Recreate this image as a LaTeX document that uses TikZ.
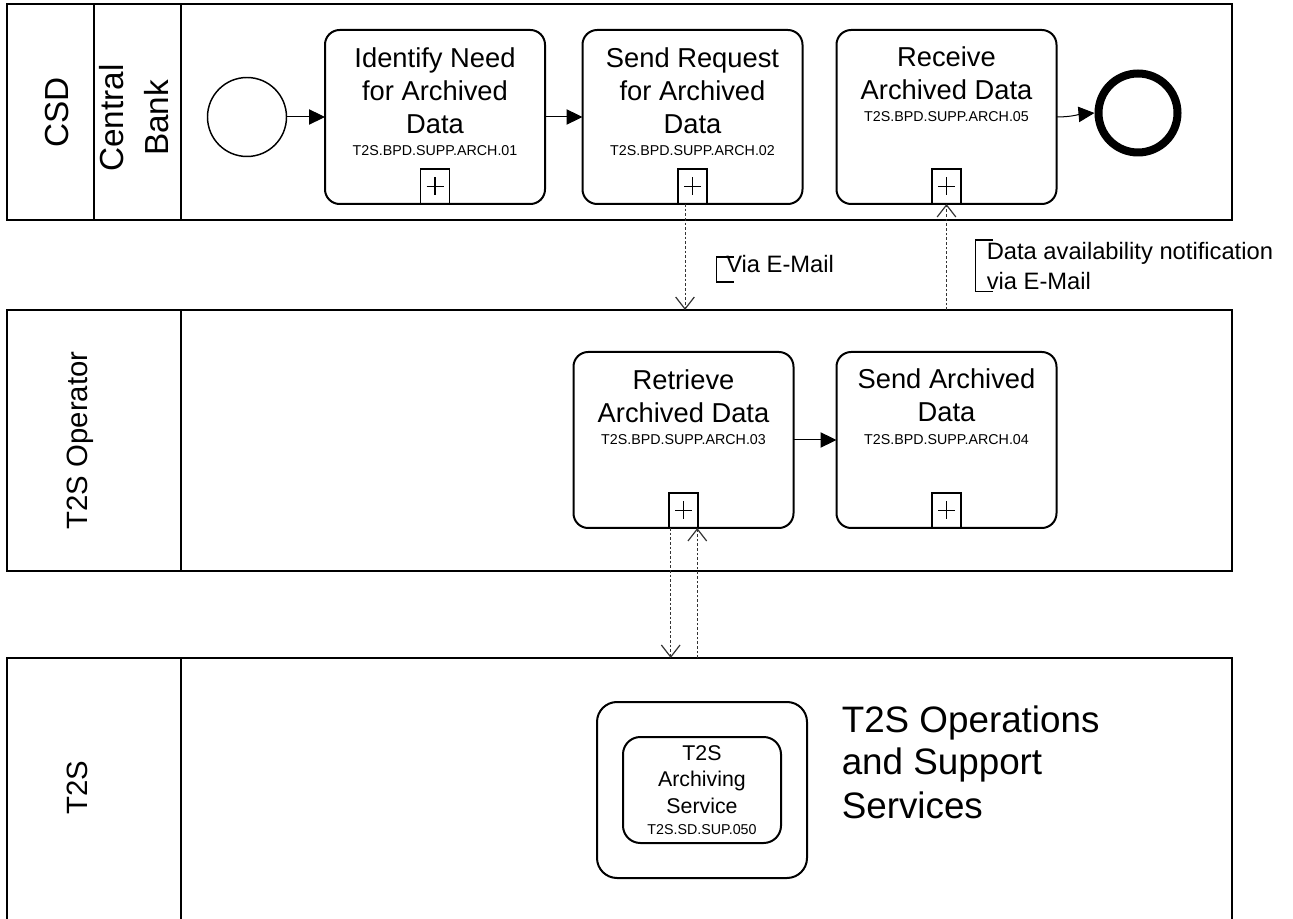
\documentclass[tikz,border=0pt]{standalone}
\usepackage{fontspec}
\setmainfont{Liberation Sans}
\usetikzlibrary{arrows.meta}
\newcommand\mrows[2][c]{\begin{tabular}[t]{@{}#1@{}}#2\end{tabular}}
\begin{document}
\begin{tikzpicture}[x=0.75pt,y=-0.75pt,
  lane/.style={draw,line width=1.5pt},
  lanelbl/.style={rotate=90,anchor=base,inner sep=0pt},
  task/.style={draw,line width=1.5pt,rounded corners=11pt,minimum width=165pt,inner sep=0pt,outer sep=0pt},
  marker/.style={draw,line width=1.4pt,minimum width=21.75pt,minimum height=26.25pt,inner sep=0pt,outer sep=0pt,anchor=south},
  plus/.style={line width=1.3pt},
  ttl/.style={anchor=base,inner sep=0pt,font=\fontsize{20.5}{24.75}\selectfont},
  code/.style={anchor=base,inner sep=0pt,font=\fontsize{10.7}{12}\selectfont},
  flow/.style={line width=0.75pt,-{Triangle[length=12pt,width=11.5pt]}},
  msg/.style={line width=0.75pt,black!80,dash pattern=on 2pt off 1.5pt,-{Straight Barb[length=9pt,width=14pt,line width=0.9pt]}},
  annot/.style={line width=1.1pt},
  annotxt/.style={anchor=base west,inner sep=0pt,font=\fontsize{17.8}{22.5}\selectfont},
  svc/.style={draw,line width=1.5pt,inner sep=0pt}
]
\useasboundingbox (0,0) rectangle (1293,919);

% lanes
\draw[lane] (7,4) rectangle (1232,220);
\draw[lane] (94,4) -- (94,220);
\draw[lane] (181,4) -- (181,220);
\draw[lane] (7,310) rectangle (1232,571);
\draw[lane] (181,310) -- (181,571);
\draw[lane] (7,658) rectangle (1232,930);
\draw[lane] (181,658) -- (181,930);

\node[lanelbl,font=\fontsize{25}{30}\selectfont] (lcsd) at (68.3,112.5) {CSD};
\node[lanelbl,font=\fontsize{25}{33.75}\selectfont] (lcb) at (123.3,118) {\mrows{Central\\Bank}};
\node[lanelbl,font=\fontsize{22}{26}\selectfont] (lop) at (87,440.5) {T2S Operator};
\node[lanelbl,font=\fontsize{22}{26}\selectfont] (lt2s) at (87,788) {T2S};

% events
\node[draw,circle,line width=1.1pt,minimum size=59.25pt,inner sep=0pt] (s) at (247,117) {};
\node[draw,circle,line width=6pt,minimum size=59.25pt,inner sep=0pt] (e) at (1138,113) {};

% tasks
\node[task,minimum height=130.5pt] (t1) at (435,117) {};
\node[task,minimum height=130.5pt] (t2) at (692.5,117) {};
\node[task,minimum height=130.5pt] (t3) at (946.5,117) {};
\node[task,minimum height=132pt] (t4) at (683.5,440) {};
\node[task,minimum height=132pt] (t5) at (946.5,440) {};

\node[ttl] (t1l) at (435,67.5) {\mrows{Identify Need\\for Archived\\Data}};
\node[code] (t1c) at (435,156) {T2S.BPD.SUPP.ARCH.01};
\node[ttl] (t2l) at (692.5,67.5) {\mrows{Send Request\\for Archived\\Data}};
\node[code] (t2c) at (692.5,156) {T2S.BPD.SUPP.ARCH.02};
\node[ttl] (t3l) at (946.5,67) {\mrows{Receive\\Archived Data}};
\node[code] (t3c) at (946.5,122) {T2S.BPD.SUPP.ARCH.05};
\node[ttl] (t4l) at (683.5,390) {\mrows{Retrieve\\Archived Data}};
\node[code] (t4c) at (683.5,445) {T2S.BPD.SUPP.ARCH.03};
\node[ttl] (t5l) at (946.5,389) {\mrows{Send Archived\\Data}};
\node[code] (t5c) at (946.5,445) {T2S.BPD.SUPP.ARCH.04};

\foreach \t in {t1,t2,t3,t4,t5}{
  \node[marker] (\t m) at (\t.south) {};
  \draw[plus] (\t m.center) ++(-8.5,0) -- ++(17,0);
  \draw[plus] (\t m.center) ++(0,-9) -- ++(0,18);
}

% sequence flows
\draw[flow] (s) -- (t1);
\draw[flow] (t1) -- (t2);
\draw[flow] (t4) -- (t5);
\draw[flow] (t3.east) to[out=0,in=185] (e.west);

% message flows
\coordinate (m1) at (685,310);
\coordinate (m2) at (946.5,310);
\coordinate (m3) at (670.7,658);
\coordinate (m4) at (697.3,658);
\draw[msg] (t2m.south -| m1) -- (m1);
\draw[msg] (m2) -- (t3m.south);
\draw[msg] (t4m.south -| m3) -- (m3);
\draw[msg] (m4) -- (t4m.south -| m4);

% annotations
\draw[annot] (734,257) -- (716.5,257) -- (716.5,282) -- (734,282);
\node[annotxt] (a1) at (726,273) {Via E-Mail};
\draw[annot] (993,240) -- (975.5,240) -- (975.5,291.5) -- (993,291.5);
\node[annotxt] (a2) at (986.5,260) {\mrows[l]{Data availability notification\\via E-Mail}};

% T2S services
\node[svc,rounded corners=15pt,minimum width=157.5pt,minimum height=132pt] (so) at (702,790) {};
\node[svc,rounded corners=13pt,minimum width=118.5pt,minimum height=79.5pt] (si) at (702,790) {};
\node[anchor=base,inner sep=0pt,font=\fontsize{16}{19.9}\selectfont] (sil) at (702,760) {\mrows{T2S\\Archiving\\Service}};
\node[code] (sic) at (702,834.5) {T2S.SD.SUP.050};
\node[anchor=base west,inner sep=0pt,font=\fontsize{27.6}{32.25}\selectfont] (ops) at (841.5,732) {\mrows[l]{T2S Operations\\and Support\\Services}};
\end{tikzpicture}
\end{document}
